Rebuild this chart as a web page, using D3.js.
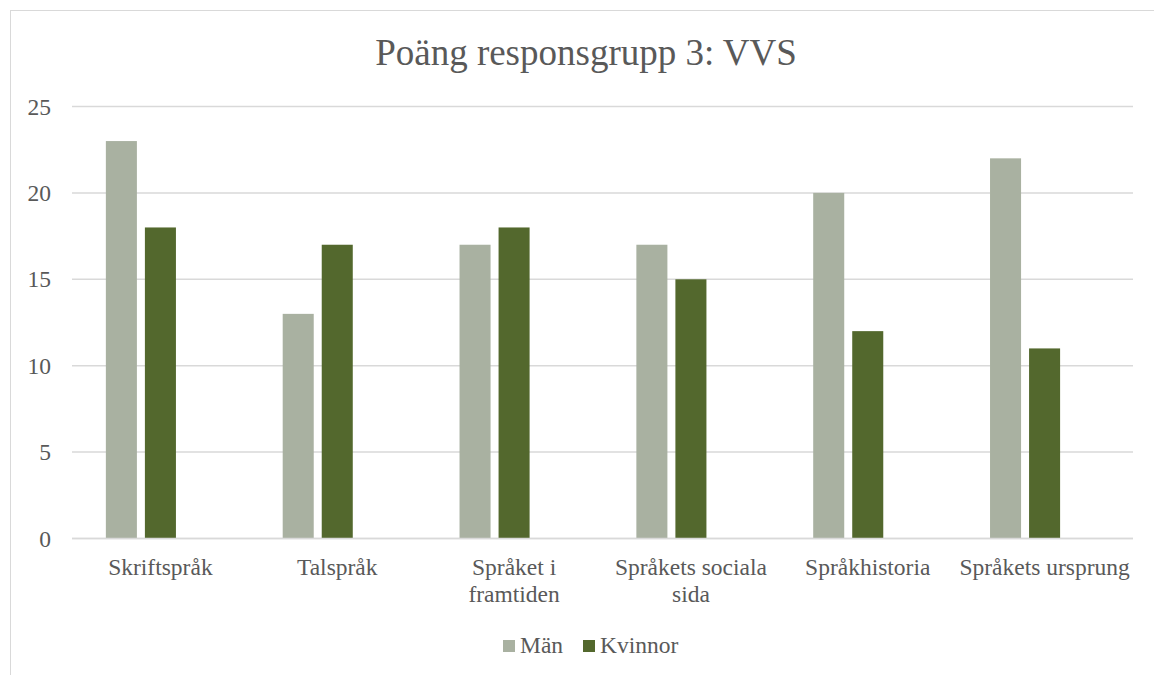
<!DOCTYPE html>
<html>
<head>
<meta charset="utf-8">
<script src="https://cdn.jsdelivr.net/npm/d3@7"></script>
<style>
    body { margin: 0; background: #fff; }
    svg { display: block; font-family: "Liberation Serif", "Times New Roman", serif; }
</style>
</head>
<body>
<div id="chart"></div>
<script>
const categories = ['Skriftspråk', 'Talspråk', 'Språket i framtiden', 'Språkets sociala sida', 'Språkhistoria', 'Språkets ursprung'];
const series = ['Män', 'Kvinnor'];
const manValues = [23, 13, 17, 17, 20, 22];
const kvinnorValues = [18, 17, 18, 15, 12, 11];
const yTicks = [0, 5, 10, 15, 20, 25];
const colors = ['#a9b1a1', '#53682d'];

const W = 1154, H = 675;
const margin = { top: 106.5, right: 21, bottom: 136.5, left: 72 };
const width = W - margin.left - margin.right;
const height = H - margin.top - margin.bottom;
const labelSize = '23.5px';

const data = categories.map((c, i) => ({ cat: c, values: [manValues[i], kvinnorValues[i]] }));

const svg = d3.select('#chart').append('svg')
    .attr('width', W)
    .attr('height', H);

// chart area border
svg.append('rect')
    .attr('x', 10.5).attr('y', 10.5)
    .attr('width', W + 20).attr('height', H + 20)
    .attr('fill', 'none')
    .attr('stroke', '#d9d9d9')
    .attr('stroke-width', 1);

svg.append('text')
    .attr('x', 586)
    .attr('y', 65)
    .attr('text-anchor', 'middle')
    .attr('fill', '#595959')
    .style('font-size', '37px')
    .text('Poäng responsgrupp 3: VVS');

const g = svg.append('g').attr('transform', `translate(${margin.left},${margin.top})`);

const x0 = d3.scaleBand()
    .domain(categories)
    .range([0, width])
    .paddingInner(0.383)
    .paddingOuter(0.1915);

// three slots per group in the original, only two are filled
const x1 = d3.scaleBand()
    .domain(series)
    .range([0, x0.bandwidth() * 70 / 109])
    .paddingInner(0.205);

const y = d3.scaleLinear().domain([0, 25]).range([height, 0]);

g.selectAll('.grid')
    .data(yTicks)
    .enter().append('line')
    .attr('class', 'grid')
    .attr('x1', 0).attr('x2', width)
    .attr('y1', d => y(d)).attr('y2', d => y(d))
    .attr('stroke', '#d9d9d9')
    .attr('stroke-width', 1.5);

const yAxis = g.append('g')
    .call(d3.axisLeft(y).tickValues(yTicks).tickSize(0).tickPadding(21));
yAxis.select('.domain').remove();
yAxis.selectAll('text')
    .attr('fill', '#595959')
    .style('font-size', labelSize)
    .style('font-family', '"Liberation Serif", "Times New Roman", serif');

g.selectAll('.cat')
    .data(data)
    .enter().append('g')
    .attr('class', 'cat')
    .attr('transform', d => `translate(${x0(d.cat)},0)`)
    .selectAll('rect')
    .data(d => d.values.map((v, i) => ({ key: series[i], value: v, i })))
    .enter().append('rect')
    .attr('x', d => x1(d.key))
    .attr('width', x1.bandwidth())
    .attr('y', d => y(d.value))
    .attr('height', d => height - y(d.value))
    .attr('fill', d => colors[d.i]);

// redraw zero line above bars
g.append('line')
    .attr('x1', 0).attr('x2', width)
    .attr('y1', y(0)).attr('y2', y(0))
    .attr('stroke', '#d9d9d9')
    .attr('stroke-width', 1.5);

const xAxis = g.append('g')
    .attr('transform', `translate(0,${height})`)
    .call(d3.axisBottom(x0).tickSize(0).tickPadding(0));
xAxis.select('.domain').remove();
xAxis.selectAll('text').remove();

// wrapped category labels
const step = x0.step();
xAxis.selectAll('.tick').each(function(d) {
    const t = d3.select(this).append('text')
        .attr('text-anchor', 'middle')
        .attr('fill', '#595959')
        .style('font-size', labelSize)
        .style('font-family', '"Liberation Serif", "Times New Roman", serif');
    const words = d.split(' ');
    let lines = [], line = [];
    const tmp = t.append('tspan');
    words.forEach(w => {
        line.push(w);
        tmp.text(line.join(' '));
        if (tmp.node().getComputedTextLength() > step && line.length > 1) {
            line.pop();
            lines.push(line.join(' '));
            line = [w];
        }
    });
    lines.push(line.join(' '));
    tmp.remove();
    lines.forEach((l, i) => {
        t.append('tspan').attr('x', 0).attr('y', 36 + i * 27).text(l);
    });
});

// legend
const legend = svg.append('g').attr('transform', 'translate(503,640)');
const items = legend.selectAll('g')
    .data(series)
    .enter().append('g')
    .attr('transform', (d, i) => `translate(${i === 0 ? 0 : 80},0)`);
items.append('rect')
    .attr('width', 12).attr('height', 12)
    .attr('fill', (d, i) => colors[i]);
items.append('text')
    .attr('x', 17)
    .attr('y', 13)
    .attr('fill', '#595959')
    .style('font-size', labelSize)
    .text(d => d);
</script>
</body>
</html>
